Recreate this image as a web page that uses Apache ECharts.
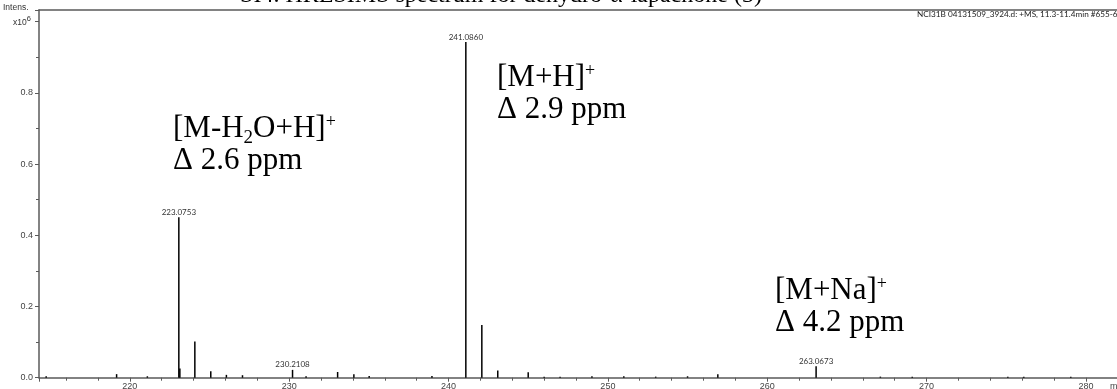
<!DOCTYPE html>
<html>
<head>
<meta charset="utf-8">
<script src="https://cdn.jsdelivr.net/npm/echarts@6/dist/echarts.min.js"></script>
<style>
  html, body { margin: 0; padding: 0; background: #fff; }
  #chart { width: 1117px; height: 389px; }
</style>
</head>
<body>
<div id="chart"></div>
<script>
// Centroided peaks of the +MS scan: m/z and intensity (x10^6 counts)
const mzValues = [
  214.75, 219.17, 221.10, 223.0753, 223.14, 224.08, 225.08, 226.06, 227.07,
  230.2108, 231.06, 233.04, 234.06, 235.02, 238.96, 241.0860, 242.09, 243.09,
  245.00, 246.00, 247.00, 249.00, 251.00, 253.00, 255.00, 256.90, 263.0673,
  267.10, 269.10, 275.10, 276.10, 279.05
];
const intensities = [
  0.004, 0.010, 0.004, 0.451, 0.026, 0.102, 0.018, 0.008, 0.007,
  0.022, 0.004, 0.016, 0.010, 0.005, 0.005, 0.943, 0.148, 0.020,
  0.015, 0.003, 0.003, 0.004, 0.004, 0.003, 0.004, 0.010, 0.032,
  0.003, 0.003, 0.003, 0.003, 0.003
];
// Peaks annotated with their accurate mass
const labeledPeaks = [223.0753, 230.2108, 241.0860, 263.0673];

// Axis ranges
const mzMin = 214.30, mzMax = 281.95;
const intensMax = 1.033, intensStep = 0.2;

const titleText = 'SI4. HRESIMS spectrum for dehydro-\u03b1-lapachone (3)';
const scanText = 'NCI31B 04131509_3924.d: +MS, 11.3-11.4min #655-668';

const serif = '"Liberation Serif", "DejaVu Serif", serif';
const sans = '"Liberation Sans", Arial, sans-serif';
const small = 'Lato, "Liberation Sans", sans-serif';
const axisColor = '#5a5a5a';

const chart = echarts.init(document.getElementById('chart'), null, { renderer: 'canvas' });

const peakData = mzValues.map((mz, i) => ({
  value: [mz, intensities[i]],
  label: { show: labeledPeaks.includes(mz) }
}));

// Ion annotation: main text, optional subscript/superscript via rich tokens
function ionLabel(text, x, y) {
  return {
    type: 'text',
    left: x, top: y,
    style: {
      text: text,
      fill: '#000',
      font: '31px ' + serif,
      rich: {
        m: { fontFamily: serif, fontSize: 31, lineHeight: 33, verticalAlign: 'top', fill: '#000' },
        sub: { fontFamily: serif, fontSize: 19, lineHeight: 19, verticalAlign: 'top', padding: [16, 0, 0, 0], fill: '#000' },
        sup: { fontFamily: serif, fontSize: 18, lineHeight: 18, verticalAlign: 'top', fill: '#000' }
      }
    }
  };
}

const option = {
  animation: false,
  backgroundColor: '#fff',
  grid: {
    left: 39, right: 0, top: 10, bottom: 11.3, show: false,
    containLabel: false, outerBoundsMode: 'none'
  },
  xAxis: [{
    type: 'value',
    min: mzMin, max: mzMax,
    splitNumber: 7,
    axisLine: { show: true, lineStyle: { color: axisColor, width: 1.5 } },
    axisTick: { show: true, length: 4, lineStyle: { color: axisColor, width: 1 } },
    minorTick: { show: true, splitNumber: 5, length: 3, lineStyle: { color: axisColor, width: 1 } },
    splitLine: { show: false },
    axisLabel: {
      fontFamily: sans, fontSize: 9, color: '#444', margin: 4,
      formatter: v => (Math.abs(v % 10) < 1e-6 ? String(Math.round(v)) : '')
    }
  }, {
    // top frame line of the plot area
    type: 'value', position: 'top',
    min: mzMin, max: mzMax,
    axisLine: { show: true, lineStyle: { color: axisColor, width: 1.5 } },
    axisTick: { show: false }, axisLabel: { show: false }, splitLine: { show: false }
  }],
  yAxis: {
    type: 'value',
    min: 0, max: intensMax, interval: intensStep,
    axisLine: { show: true, lineStyle: { color: axisColor, width: 1.5 } },
    axisTick: { show: true, length: 4, lineStyle: { color: axisColor, width: 1 } },
    minorTick: { show: true, splitNumber: 2, length: 3, lineStyle: { color: axisColor, width: 1 } },
    splitLine: { show: false },
    axisLabel: {
      fontFamily: sans, fontSize: 9, color: '#444', margin: 6,
      formatter: v => (v > 0.9 ? '' : v.toFixed(1))
    }
  },
  series: [{
    type: 'bar',
    xAxisIndex: 0,
    data: peakData,
    barWidth: 1.5,
    itemStyle: { color: '#000' },
    label: {
      position: 'top', distance: 1,
      fontFamily: small, fontSize: 8, color: '#333',
      formatter: p => p.value[0].toFixed(4)
    }
  }],
  graphic: [
    {
      type: 'text', x: 501, y: -4.5,
      style: { text: titleText, font: '24px ' + serif, fill: '#000', align: 'center', verticalAlign: 'middle' }
    },
    {
      type: 'text', x: 917, y: 14,
      style: { text: scanText, font: '8.2px ' + small, fill: '#222', align: 'left', verticalAlign: 'middle' }
    },
    {
      type: 'text', x: 3, y: 8,
      style: { text: 'Intens.', font: '8.5px ' + sans, fill: '#333', align: 'left', verticalAlign: 'middle' }
    },
    {
      type: 'text', x: 13, y: 21,
      style: {
        text: '{a|x10}{s|6}', fill: '#333', align: 'left', verticalAlign: 'middle',
        rich: {
          a: { fontFamily: sans, fontSize: 8.5, lineHeight: 12, verticalAlign: 'bottom', fill: '#333' },
          s: { fontFamily: sans, fontSize: 7.5, lineHeight: 8, verticalAlign: 'top', fill: '#333' }
        }
      }
    },
    {
      type: 'text', x: 1110, y: 387,
      style: { text: 'm/z', font: '9px ' + sans, fill: '#444', align: 'left', verticalAlign: 'middle' }
    },
    ionLabel('{m|[M-H}{sub|2}{m|O+H]}{sup|+}', 173, 113),
    ionLabel('{m|\u0394 2.6 ppm}', 173, 145),
    ionLabel('{m|[M+H]}{sup|+}', 497, 62),
    ionLabel('{m|\u0394 2.9 ppm}', 497, 94),
    ionLabel('{m|[M+Na]}{sup|+}', 775, 275),
    ionLabel('{m|\u0394 4.2 ppm}', 775, 307)
  ]
};

chart.setOption(option);
</script>
</body>
</html>
